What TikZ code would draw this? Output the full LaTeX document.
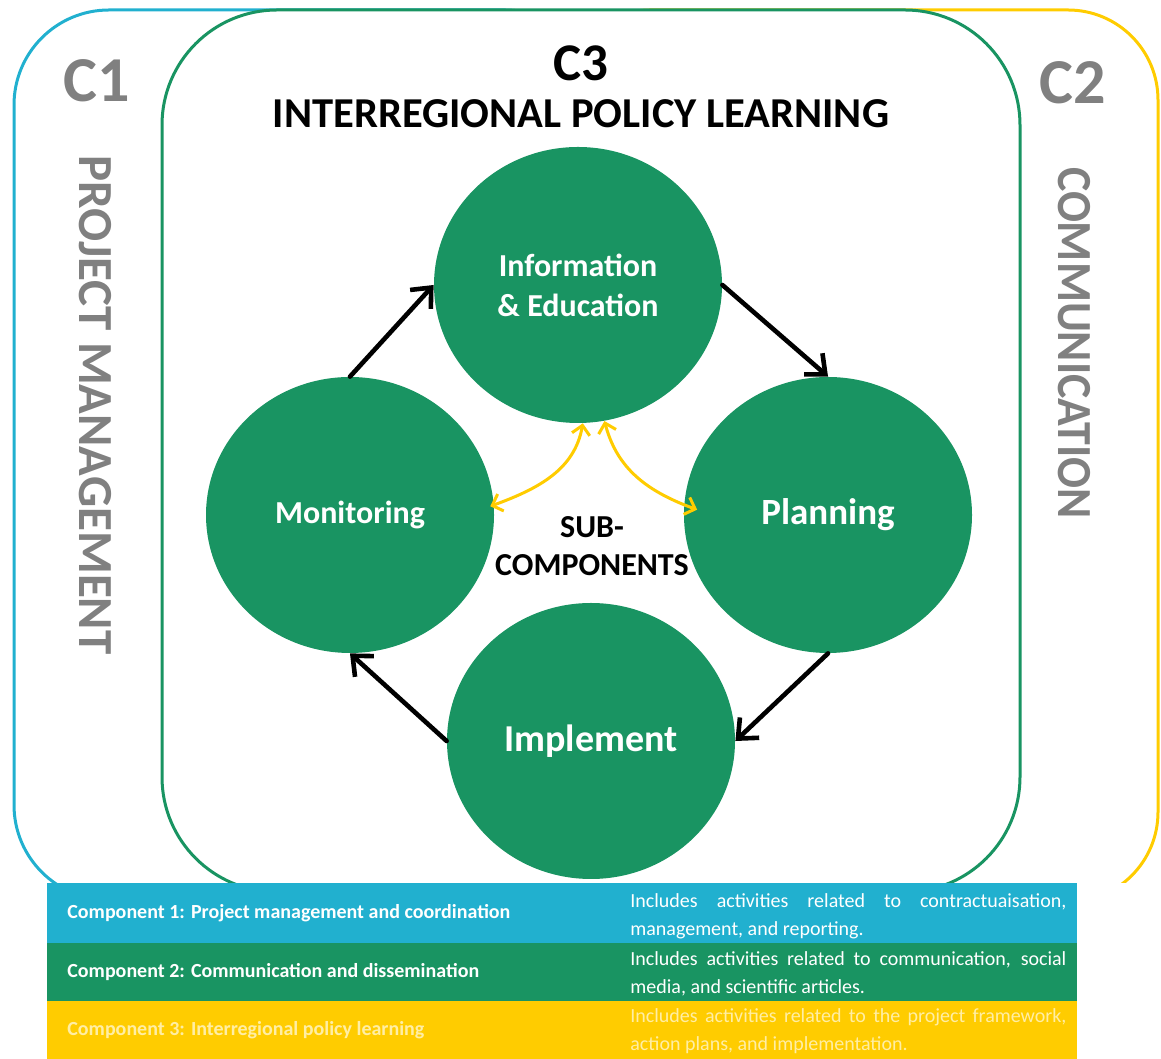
\documentclass[tikz,border=0pt]{standalone}
\usepackage{fontspec}
\setmainfont{Carlito}
\usepackage{graphicx}
\usepackage{tikz}
\usetikzlibrary{arrows.meta,shapes.geometric}

\definecolor{cblue}{RGB}{33,176,207}
\definecolor{cgreen}{RGB}{25,148,98}
\definecolor{cyellow}{RGB}{255,204,0}
\definecolor{cgray}{RGB}{128,128,128}
\definecolor{paleyellow}{RGB}{255,238,165}

\begin{document}
\begin{tikzpicture}[x=0.5pt,y=0.5pt,
  sub/.style={ellipse, fill=cgreen, minimum width=144pt, minimum height=138pt,
    inner sep=0pt, text=white, align=center, font=\bfseries\fontsize{16}{20}\selectfont},
  loopedge/.style={line width=2.3pt, line cap=round, -{Straight Barb[length=8pt,width=14pt]}},
  subarrow/.style={cyellow, line width=1.5pt,
    {Straight Barb[length=4.5pt,width=9pt]}-{Straight Barb[length=4.5pt,width=9pt]}},
  cname/.style={text=cgray, font=\bfseries\fontsize{32}{36}\selectfont},
  cside/.style={text=cgray, rotate=-90, font=\bfseries\fontsize{24.5}{30}\selectfont},
  rowlabel/.style={anchor=west, inner sep=0pt, text=white, font=\bfseries\fontsize{10}{12}\selectfont},
  rowtext/.style={anchor=west, inner sep=0pt, text width=218pt, align=justify,
    text=white, font=\fontsize{10}{14}\selectfont}]
  \useasboundingbox (0,0) rectangle (1161,1059);

  % the three component frames, C3 on top; cut off at the table
  \begin{scope}
    \clip (0,176) rectangle (1161,1059);
    \draw[cblue, line width=1.5pt, rounded corners=47.5pt] (14,159) rectangle (600,1049);
    \draw[cyellow, line width=1.5pt, rounded corners=45pt] (560,157) rectangle (1158,1049);
    \draw[cgreen, line width=1.5pt, fill=white, rounded corners=57.5pt] (162,167) rectangle (1020,1049);
  \end{scope}

  \node[cname] (c1) at (97,978) {C1};
  \node[cname] (c2) at (1073,976) {C2};
  \node[cside] (c1name) at (95,654) {PROJECT MANAGEMENT};
  \node[cside] (c2name) at (1074,716) {\scalebox{0.935}[1]{COMMUNICATION}};

  \node[font=\bfseries\fontsize{26.5}{30}\selectfont] (c3) at (581,996) {C3};
  \node[font=\bfseries\fontsize{21.3}{26}\selectfont] (c3name) at (581,945) {INTERREGIONAL POLICY LEARNING};

  % sub-components
  \node[sub] (info) at (578,774) {Information\\\& Education};
  \node[sub] (mon) at (350,544) {Monitoring};
  \node[sub, font=\bfseries\fontsize{18.5}{22}\selectfont] (plan) at (828,544) {Planning};
  \node[sub, font=\bfseries\fontsize{19}{22}\selectfont] (impl) at (591,318) {Implement};
  \node[align=center, font=\bfseries\fontsize{16}{19}\selectfont] (hub) at (592,513) {SUB-\\COMPONENTS};

  \draw[loopedge] (mon.north) -- (info.west);
  \draw[loopedge] (info.east) -- (plan.north);
  \draw[loopedge] (plan.south) -- (impl.east);
  \draw[loopedge] (impl.west) -- (mon.south);

  \draw[subarrow, shorten >=-2pt] (info.-88) to[out=-100, in=20] (mon.4);
  \draw[subarrow, shorten >=-7pt] (info.-79) to[out=-75, in=160] (plan.176);

  % legend table
  \foreach \yt/\yb/\col in {176/116/cblue, 116/58/cgreen, 58/0/cyellow}
    \fill[\col] (47,\yb) rectangle (1077,\yt);

  \node[rowlabel] (lab1) at (67,146) {Component 1: Project management and coordination};
  \node[rowlabel] (lab2) at (67,87) {Component 2: Communication and dissemination};
  \node[rowlabel, text=paleyellow] (lab3) at (67,29) {Component 3: Interregional policy learning};

  \node[rowtext] (txt1) at (630,143) {Includes activities related to contractuaisation,\linebreak management, and reporting.};
  \node[rowtext] (txt2) at (630,85) {Includes activities related to communication, social\linebreak media, and scientific articles.};
  \node[rowtext, text=paleyellow] (txt3) at (630,28) {Includes activities related to the project framework,\linebreak action plans, and implementation.};
\end{tikzpicture}
\end{document}
